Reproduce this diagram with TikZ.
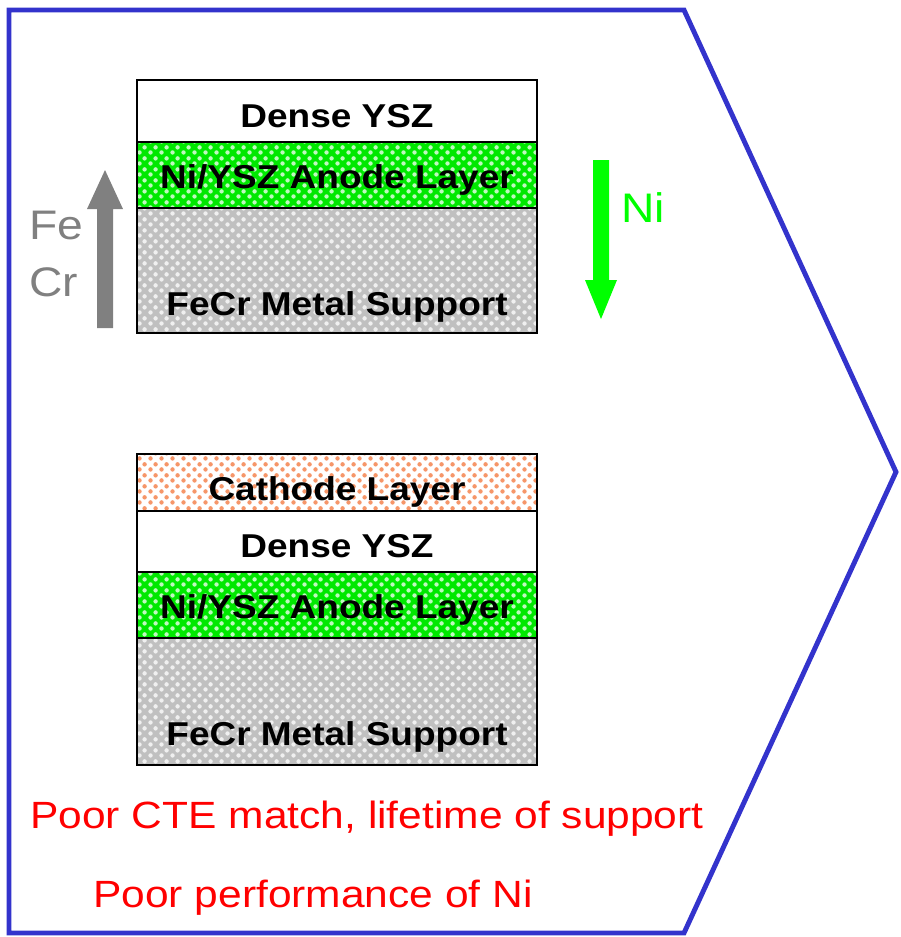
\documentclass[tikz,border=0pt]{standalone}
\usepackage{fontspec}
\setmainfont[FakeStretch=1.12]{Liberation Sans}
\usetikzlibrary{patterns.meta}

\definecolor{frameblue}{RGB}{51,51,204}
\definecolor{anodegreen}{RGB}{0,232,0}
\definecolor{arrowgreen}{RGB}{0,255,0}
\definecolor{fecrgray}{RGB}{128,128,128}
\definecolor{supportgray}{RGB}{192,192,192}
\definecolor{cathodeorange}{RGB}{246,150,105}

% porous layers: staggered grains
\tikzdeclarepattern{
  name=grains,
  type=uncolored,
  bounding box={(0pt,0pt) and (6pt,6pt)},
  tile size={(6pt,6pt)},
  code={
    \pgfpathcircle{\pgfpoint{1.5pt}{1.5pt}}{1.3pt}
    \pgfpathcircle{\pgfpoint{4.5pt}{4.5pt}}{1.3pt}
    \pgfusepath{fill}
  }
}

\begin{document}
\begin{tikzpicture}[x=0.02cm,y=-0.02cm,
  layertext/.style={font=\bfseries\fontsize{18.8}{21}\selectfont,anchor=base,inner sep=0pt},
  note/.style={font=\fontsize{21.6}{24}\selectfont,text=red,anchor=base,inner sep=0pt},
  species/.style={font=\fontsize{23.5}{26}\selectfont,anchor=base west,inner sep=0pt},
  ysz/.style={fill=white},
  anode/.style={fill=anodegreen,postaction={pattern=grains,pattern color=white!75!anodegreen}},
  support/.style={fill=supportgray,postaction={pattern=grains,pattern color=gray!12}},
  cathode/.style={fill=white,postaction={pattern=grains,pattern color=cathodeorange}},
  edge/.style={draw=black,line width=1.1pt}]
\useasboundingbox (0,0) rectangle (901,937);

% outline arrow
\draw[frameblue,line width=2.8pt,line join=miter] (9,10) -- (684,10) -- (896,472) -- (684,933) -- (9,933) -- cycle;

% half cell before firing
\path[ysz] (137,80) rectangle (537,142);
\path[anode] (137,142) rectangle (537,208);
\path[support] (137,208) rectangle (537,333);
\draw[edge] (137,80) rectangle (537,333);
\draw[edge] (137,142) -- (537,142) (137,208) -- (537,208);
\node[layertext] (ysz1) at (337,127) {Dense YSZ};
\node[layertext] (ano1) at (337,188) {Ni/YSZ Anode Layer};
\node[layertext] (sup1) at (337,315) {FeCr Metal Support};

% interdiffusion
\fill[fecrgray] (97,328) -- (97,209) -- (87,209) -- (105,170) -- (123,209) -- (113,209) -- (113,328) -- cycle;
\node[species,text=fecrgray] (fe) at (29,239) {Fe};
\node[species,text=fecrgray] (cr) at (29,296) {Cr};
\fill[arrowgreen] (593,160) -- (609,160) -- (609,280) -- (617,280) -- (601,319) -- (585,280) -- (593,280) -- cycle;
\node[species,text=arrowgreen] (ni) at (621,222) {Ni};

% full cell
\path[cathode] (137,454) rectangle (537,511);
\path[ysz] (137,511) rectangle (537,572);
\path[anode] (137,572) rectangle (537,638);
\path[support] (137,638) rectangle (537,765);
\draw[edge] (137,454) rectangle (537,765);
\draw[edge] (137,511) -- (537,511) (137,572) -- (537,572) (137,638) -- (537,638);
\node[layertext] (cat2) at (337,500) {Cathode Layer};
\node[layertext] (ysz2) at (337,557) {Dense YSZ};
\node[layertext] (ano2) at (337,618) {Ni/YSZ Anode Layer};
\node[layertext] (sup2) at (337,745) {FeCr Metal Support};

% problems
\node[note] (cte) at (367,828) {Poor CTE match, lifetime of support};
\node[note] (perf) at (313,907) {Poor performance of Ni};
\end{tikzpicture}
\end{document}
